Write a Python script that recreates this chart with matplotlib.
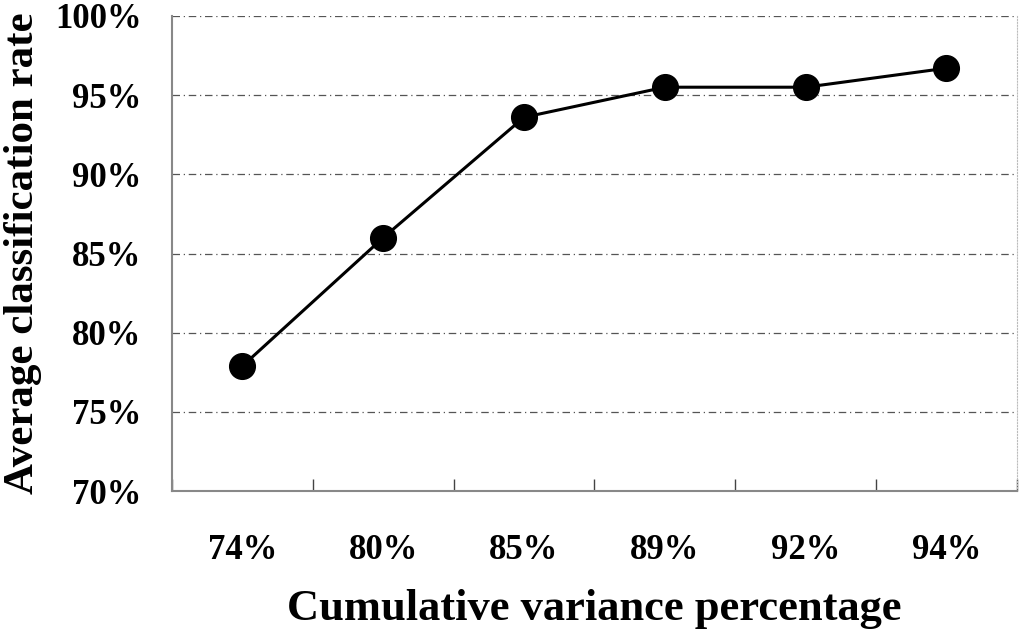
import numpy as np
import matplotlib
matplotlib.use("Agg")
import matplotlib.pyplot as plt
from matplotlib.ticker import FuncFormatter

# cumulative variance kept vs. average classification rate
variance_labels = ["74%", "80%", "85%", "89%", "92%", "94%"]
class_rate = [77.9, 86.0, 93.6, 95.5, 95.5, 96.7]
y_ticks = [70, 75, 80, 85, 90, 95, 100]

plt.rcParams["font.family"] = ["Liberation Serif", "DejaVu Serif"]
plt.rcParams["font.weight"] = "bold"

fig = plt.figure(figsize=(10.24, 6.37), dpi=100)
ax = fig.add_axes([0.168, 0.229, 0.825, 0.746])

x = np.arange(len(variance_labels))
ax.plot(x, class_rate, color="black", linewidth=2.2, marker="o",
        markersize=18.5, zorder=3)

ax.set_xlim(-0.5, len(variance_labels) - 0.5)
ax.set_ylim(70, 100)

# grid lines (dash-dot, grey)
for v in y_ticks[1:]:
    ax.axhline(v, color="#555555", linewidth=0.9, linestyle=(0, (6, 3, 1, 3)), zorder=1)

ax.set_yticks(y_ticks)
ax.yaxis.set_major_formatter(FuncFormatter(lambda v, p: "{:d}%".format(int(v))))
ax.tick_params(axis="y", length=0, pad=22, labelsize=25)

# ticks at category boundaries, labels centred on categories
ax.set_xticks(np.arange(len(variance_labels) + 1) - 0.5)
ax.set_xticklabels([])
ax.set_xticks(x, minor=True)
ax.set_xticklabels(variance_labels, minor=True, fontsize=25, fontweight="bold")
ax.tick_params(axis="x", which="major", direction="in", length=9, width=1, color="#444444")
ax.tick_params(axis="x", which="minor", length=0, pad=31)

for s in ["left", "bottom"]:
    ax.spines[s].set_color("#888888")
    ax.spines[s].set_linewidth(1.5)
ax.spines["top"].set_visible(False)
ax.spines["right"].set_color("#bbbbbb")
ax.spines["right"].set_linestyle(":")

ax.set_xlabel("Cumulative variance percentage", fontsize=32, fontweight="bold", labelpad=16)
ax.set_ylabel("Average classification rate", fontsize=31, fontweight="bold", labelpad=9)

fig.savefig("out.png", dpi=100)
